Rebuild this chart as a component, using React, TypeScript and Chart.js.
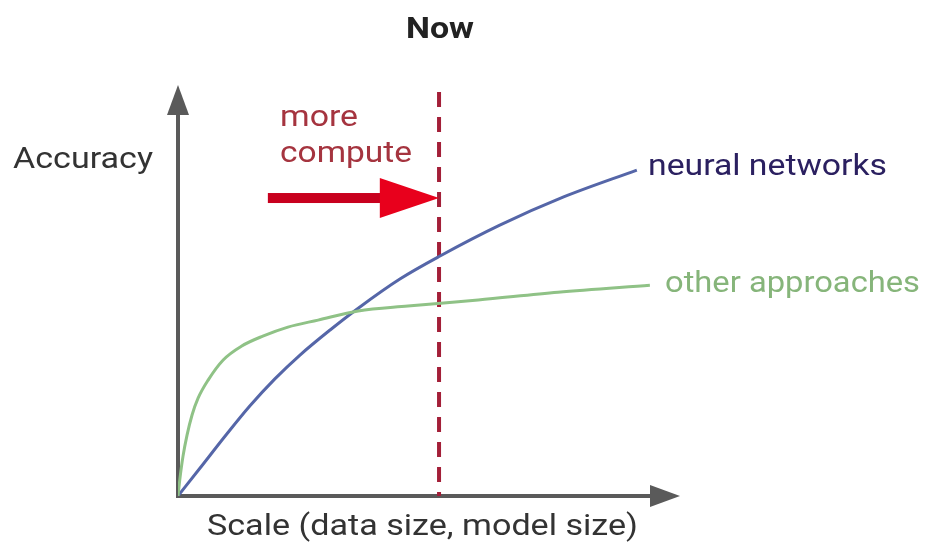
import { useEffect, useRef } from "react";
import { Chart, registerables } from "chart.js";

Chart.register(...registerables);

// ---- Text ----
const TITLE = "Now";
const X_LABEL = "Scale (data size, model size)";
const Y_LABEL = "Accuracy";
const NN_LABEL = "neural networks";
const OTHER_LABEL = "other approaches";
const COMPUTE_LINES = ["more", "compute"];

// ---- Data (x: scale 0-100, y: accuracy 0-100) ----
const nnX = [0, 4.4, 9.4, 14.3, 19.3, 24.3, 30.3, 35.9, 44.2, 52.2, 64.1, 76.7, 91.4];
const nnY = [0, 6.8, 14.6, 21.9, 28.5, 34.3, 40.4, 45.7, 52.8, 58.4, 65.9, 72.7, 79.3];
const otherX = [0, 0.4, 1.0, 1.8, 2.8, 4.0, 6.0, 9.0, 12.7, 16.9, 21.9, 27.9, 35.9, 45.8, 59.8, 75.7, 94.0];
const otherY = [0, 4.4, 9.7, 14.8, 19.7, 23.8, 28.2, 33.1, 36.5, 38.9, 41.1, 42.8, 45.0, 46.2, 47.7, 49.6, 51.3];
const computeLineX = [52.0, 52.0];
const computeLineY = [98.3, 0];
const arrowX = [17.9, 40.2, 52.0]; // shaft start, head base, tip
const arrowY = 72.5;

const W = 935;
const H = 544;

function drawText(
  ctx: CanvasRenderingContext2D,
  text: string,
  x: number,
  baseline: number,
  font: string,
  color: string,
  targetWidth: number
) {
  ctx.save();
  ctx.font = font;
  ctx.fillStyle = color;
  ctx.textBaseline = "alphabetic";
  ctx.textAlign = "left";
  const w = ctx.measureText(text).width;
  const sx = w > 0 ? targetWidth / w : 1;
  ctx.translate(x, baseline);
  ctx.scale(sx, 1);
  ctx.fillText(text, 0, 0);
  ctx.restore();
}

const overlay = {
  id: "overlay",
  beforeDatasetsDraw(chart: any) {
    const ctx: CanvasRenderingContext2D = chart.ctx;
    const { left, right, top, bottom } = chart.chartArea;
    const axisColor = "#5a5a5a";
    const head = 30;
    const half = 11;
    ctx.save();
    ctx.strokeStyle = axisColor;
    ctx.fillStyle = axisColor;
    ctx.lineWidth = 4;
    ctx.lineCap = "butt";
    // x axis
    ctx.beginPath();
    ctx.moveTo(left - 2, bottom);
    ctx.lineTo(right - head + 2, bottom);
    ctx.stroke();
    ctx.beginPath();
    ctx.moveTo(right, bottom);
    ctx.lineTo(right - head, bottom - half);
    ctx.lineTo(right - head, bottom + half);
    ctx.closePath();
    ctx.fill();
    // y axis
    ctx.beginPath();
    ctx.moveTo(left, bottom + 2);
    ctx.lineTo(left, top + head - 2);
    ctx.stroke();
    ctx.beginPath();
    ctx.moveTo(left, top);
    ctx.lineTo(left - half, top + head);
    ctx.lineTo(left + half, top + head);
    ctx.closePath();
    ctx.fill();
    ctx.restore();
  },
  afterDatasetsDraw(chart: any) {
    const ctx: CanvasRenderingContext2D = chart.ctx;
    const xs = chart.scales.x;
    const ys = chart.scales.y;
    // red arrow
    const x0 = xs.getPixelForValue(arrowX[0]);
    const xh = xs.getPixelForValue(arrowX[1]);
    const xt = xs.getPixelForValue(arrowX[2]);
    const y = ys.getPixelForValue(arrowY);
    ctx.save();
    ctx.fillStyle = "#c8001e";
    ctx.fillRect(x0, y - 5, xh - x0 + 2, 10);
    ctx.fillStyle = "#e8001c";
    ctx.beginPath();
    ctx.moveTo(xh, y - 20);
    ctx.lineTo(xt, y);
    ctx.lineTo(xh, y + 20);
    ctx.closePath();
    ctx.fill();
    ctx.restore();

    const fam = "Roboto, 'Liberation Sans', Arial, sans-serif";
    drawText(ctx, TITLE, 406, 38, `bold 30px ${fam}`, "#222222", 68);
    drawText(ctx, Y_LABEL, 13, 168, `30px ${fam}`, "#333333", 140);
    drawText(ctx, COMPUTE_LINES[0], 280, 126, `30px ${fam}`, "#a5343f", 78);
    drawText(ctx, COMPUTE_LINES[1], 280, 162, `30px ${fam}`, "#a5343f", 132);
    drawText(ctx, NN_LABEL, 648, 175, `30px ${fam}`, "#2b2060", 239);
    drawText(ctx, OTHER_LABEL, 665, 292, `30px ${fam}`, "#86b57a", 255);
    drawText(ctx, X_LABEL, 207, 535, `30px ${fam}`, "#333333", 431);
  },
};

export default function App() {
  const ref = useRef<HTMLCanvasElement | null>(null);

  useEffect(() => {
    if (!ref.current) return;
    const toPts = (xs: number[], ys: number[]) => xs.map((x, i) => ({ x, y: ys[i] }));
    const chart = new Chart(ref.current, {
      type: "scatter",
      data: {
        datasets: [
          {
            label: OTHER_LABEL,
            data: toPts(otherX, otherY),
            showLine: true,
            borderColor: "#8fc286",
            borderWidth: 3,
            pointRadius: 0,
            cubicInterpolationMode: "monotone",
          },
          {
            label: NN_LABEL,
            data: toPts(nnX, nnY),
            showLine: true,
            borderColor: "#5566a8",
            borderWidth: 3,
            pointRadius: 0,
            cubicInterpolationMode: "monotone",
          },
          {
            label: "more compute",
            data: toPts(computeLineX, computeLineY),
            showLine: true,
            borderColor: "#a31f38",
            borderWidth: 4,
            borderDash: [15, 10],
            pointRadius: 0,
          },
        ],
      } as any,
      options: {
        animation: false,
        responsive: false,
        maintainAspectRatio: false,
        layout: { padding: { left: 178, top: 85, right: W - 680, bottom: H - 496 } },
        scales: {
          x: { type: "linear", min: 0, max: 100, display: false },
          y: { type: "linear", min: 0, max: 100, display: false },
        },
        plugins: {
          legend: { display: false },
          tooltip: { enabled: false },
          title: { display: false },
        },
      } as any,
      plugins: [overlay],
    });
    return () => chart.destroy();
  }, []);

  return (
    <div style={{ position: "absolute", left: 0, top: 0, width: W, height: H, background: "#ffffff" }}>
      <canvas ref={ref} width={W} height={H} style={{ width: W, height: H, display: "block" }} />
    </div>
  );
}
